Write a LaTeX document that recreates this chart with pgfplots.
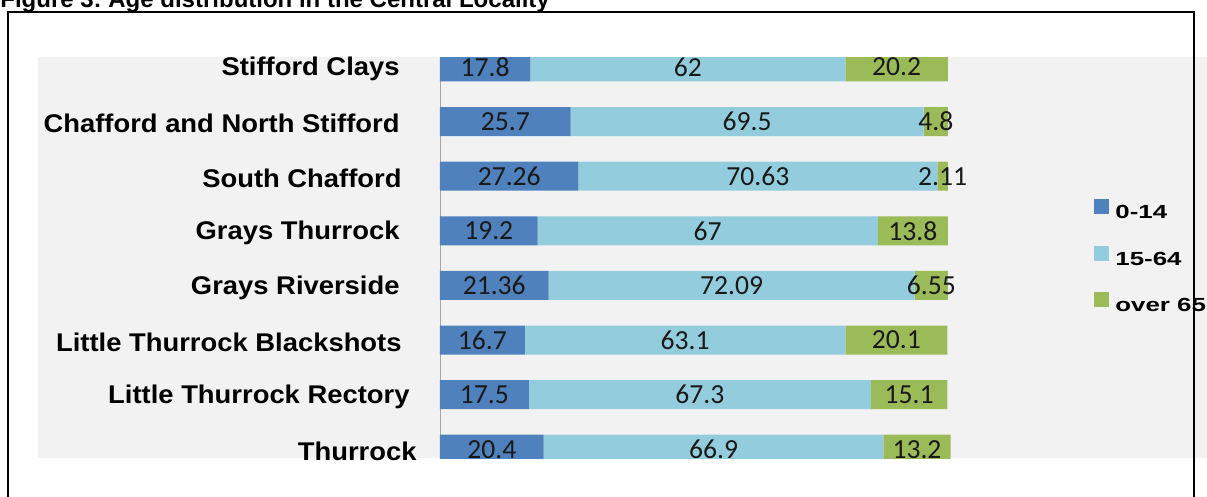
\documentclass[border=0pt]{standalone}
\usepackage{pgfplots}
\pgfplotsset{compat=1.18}
\usepackage{pgfplotstable}
\usepackage{fontspec}
\setmainfont{Liberation Sans}
\newfontfamily\catfont{Liberation Sans}[FakeStretch=1.07]
\newfontfamily\numfont{Carlito}
\newfontfamily\legfont{Liberation Sans}[FakeStretch=1.36]
\definecolor{cA}{HTML}{4F81BD}
\definecolor{cB}{HTML}{93CDDD}
\definecolor{cC}{HTML}{9BBB59}
\definecolor{bg}{HTML}{F2F2F2}
\pgfplotstableread{
y a b c
0 17.8 62 20.2
1 25.7 69.5 4.8
2 27.26 70.63 2.11
3 19.2 67 13.8
4 21.36 72.09 6.55
5 16.7 63.1 20.1
6 17.5 67.3 15.1
7 20.4 66.9 13.2
}\data
\pgfplotsset{base/.style={at={(220pt,-229pt)}, anchor=south west, scale only axis,
  width=355.6pt, height=200.5pt, xmin=0, xmax=140, ymin=-0.183, ymax=7.161, y dir=reverse}}
\frenchspacing
\begin{document}
\begin{tikzpicture}
\useasboundingbox (0pt,0pt) rectangle (603.5pt,-248.5pt);
\clip (0pt,0pt) rectangle (603.5pt,-248.5pt);
\begin{scope}[x=0.5pt,y=-0.5pt]
\fill[bg] (38,57) rectangle (1207,458);
\end{scope}
\begin{axis}[base, xbar stacked, bar width=14.5pt, axis line style={draw=none},
  xtick=\empty, ytick={0,...,7}, major tick length=0pt,
  yticklabels={Stifford Clays\hspace*{8.5pt}, Chafford and North Stifford\hspace*{8.5pt}, South Chafford\hspace*{7.5pt}, Grays Thurrock\hspace*{8.5pt}, Grays Riverside\hspace*{8.5pt}, Little Thurrock Blackshots\hspace*{7.5pt}, Little Thurrock Rectory\hspace*{3.5pt}, Thurrock},
  yticklabel style={font=\catfont\bfseries\fontsize{12.8}{14}\selectfont, inner sep=0pt, anchor=east, xshift=-11.5pt, yshift=-1pt},
  legend style={draw=none, fill=none, at={(0.9196,0.646)}, anchor=north west, inner sep=0pt,
    font=\legfont\bfseries\fontsize{9.5}{11}\selectfont, row sep=10.6pt,
    nodes={inner sep=1.5pt}, /tikz/every odd column/.append style={column sep=1.5pt}},
  legend cell align=left,
  legend image code/.code={\draw[#1,/tikz/.cd,draw=none] (0pt,-0.45pt) rectangle (7.5pt,7.05pt);}]
\addplot[fill=cA, draw=none] table[x=a, y=y]{\data};
\addplot[fill=cB, draw=none] table[x=b, y=y]{\data};
\addplot[fill=cC, draw=none] table[x=c, y=y]{\data};
\legend{0-14, 15-64, over 65}
\draw[gray!70] (axis cs:0,-0.183) -- (axis cs:0,7.161);
\end{axis}
\begin{axis}[base, hide axis, clip=false]
\addplot[draw=none, nodes near coords, point meta=explicit symbolic,
  every node near coord/.append style={anchor=center, inner sep=0pt, text=black!90, font=\numfont\fontsize{13.8}{15}\selectfont}]
  table[x expr=\thisrow{a}/2, y=y, meta=a]{\data};
\addplot[draw=none, nodes near coords, point meta=explicit symbolic,
  every node near coord/.append style={anchor=center, inner sep=0pt, text=black!90, font=\numfont\fontsize{13.8}{15}\selectfont}]
  table[x expr=\thisrow{a}+\thisrow{b}/2, y=y, meta=b]{\data};
\addplot[draw=none, nodes near coords, point meta=explicit symbolic,
  every node near coord/.append style={anchor=center, inner sep=0pt, text=black!90, font=\numfont\fontsize{13.8}{15}\selectfont}]
  table[x expr=\thisrow{a}+\thisrow{b}+\thisrow{c}/2, y=y, meta=c]{\data};
\end{axis}
\begin{scope}[x=0.5pt,y=-0.5pt]
\draw[line width=1pt] (8,12) rectangle (1193.5,520);
\node[anchor=base west, inner sep=0pt, font=\bfseries\fontsize{12}{14}\selectfont] at (0,8) {Figure 3: Age distribution in the Central Locality};
\end{scope}
\end{tikzpicture}
\end{document}
